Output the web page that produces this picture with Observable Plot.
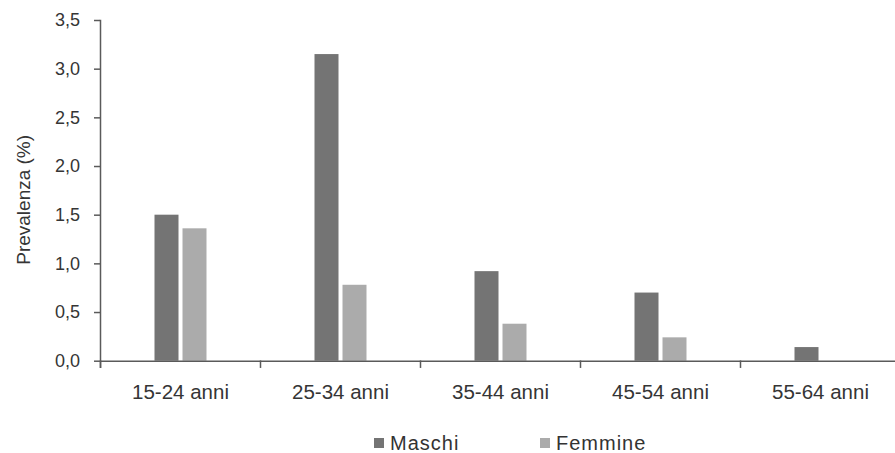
<!DOCTYPE html>
<html><head><meta charset="utf-8">
<script src="https://cdn.jsdelivr.net/npm/d3@7"></script>
<script src="https://cdn.jsdelivr.net/npm/@observablehq/plot@0.6"></script>
<style>
body{margin:0;background:#fff;font-family:"Liberation Sans",Arial,sans-serif;}
#legend{position:absolute;top:436px;left:0;height:14px;width:895px;font-size:20px;line-height:14px;color:#333;letter-spacing:1px;}
.item{position:absolute;top:0;display:flex;align-items:center;white-space:nowrap;height:14px;}
.sw{width:10px;height:10px;margin-right:6px;}
</style></head><body><div id="chart"></div><div id="legend"></div>
<script>
const ages = ["15-24 anni","25-34 anni","35-44 anni","45-54 anni","55-64 anni"];
const series = ["Maschi","Femmine"];
const maschi = [1.50, 3.15, 0.92, 0.70, 0.14];
const femmine = [1.36, 0.78, 0.38, 0.24, 0];
const yTicks = [0, 0.5, 1.0, 1.5, 2.0, 2.5, 3.0, 3.5];
const yLabel = "Prevalenza (%)";
const colors = ["#747474", "#ababab"];

const data = ages.flatMap((a, i) => [
  {age: a, sex: series[0], value: maschi[i]},
  {age: a, sex: series[1], value: femmine[i]}
]);

const W = 895, H = 420, mt = 20, mb = 59.3, ml = 98.5, mr = -6;
const ink = "#353535", axisColor = "#5a5a5a";

const plot = Plot.plot({
  width: W, height: H, marginTop: mt, marginBottom: mb, marginLeft: ml, marginRight: mr,
  style: {fontFamily: "'Liberation Sans', Arial, sans-serif", background: "#fff", color: ink},
  fx: {domain: ages, paddingInner: 0, paddingOuter: 0},
  x: {domain: series, paddingInner: 0.158, paddingOuter: 1.89, axis: null},
  y: {domain: [0, 3.5]},
  color: {domain: series, range: colors},
  marks: [
    Plot.barY(data, {fx: "age", x: "sex", y: "value", fill: "sex"}),
    Plot.ruleY([0], {stroke: axisColor, strokeWidth: 1.5}),
    Plot.frame({anchor: "left", facetAnchor: "left", insetBottom: -6, stroke: axisColor, strokeWidth: 1.5}),
    Plot.frame({anchor: "left", insetTop: H - mt - mb, insetBottom: -6, stroke: axisColor, strokeWidth: 1.5}),
    Plot.axisY({ticks: yTicks, tickFormat: d => d.toFixed(1).replace(".", ","), tickSize: 6, tickPadding: 14.5,
      fontSize: 18, stroke: axisColor, strokeWidth: 1.5, label: null}),
    Plot.axisFx({anchor: "bottom", tickSize: 0, tickPadding: 23, fontSize: 20.5, label: null}),
    Plot.text([ages[0]], {fx: d => d, text: () => yLabel, frameAnchor: "left", textAnchor: "middle",
      rotate: -90, dx: -77, dy: 9, fontSize: 19, fill: ink})
  ]
});
document.getElementById("chart").appendChild(plot);

const legend = document.getElementById("legend");
const legendX = [374, 540];
series.forEach((s, i) => {
  const it = document.createElement("div");
  it.className = "item";
  it.style.left = legendX[i] + "px";
  const sw = document.createElement("span");
  sw.className = "sw";
  sw.style.background = colors[i];
  const t = document.createElement("span");
  t.textContent = s;
  it.appendChild(sw); it.appendChild(t);
  legend.appendChild(it);
});
</script></body></html>
